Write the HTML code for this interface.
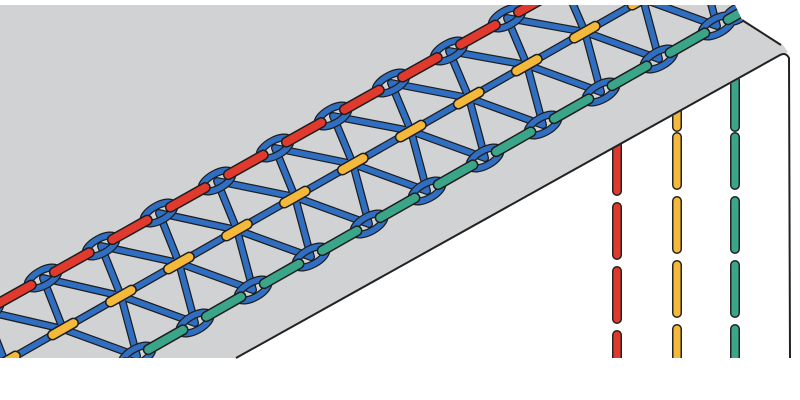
<!DOCTYPE html>
<html><head><meta charset="utf-8"><style>
html,body{margin:0;padding:0;background:#fff;width:800px;height:400px;overflow:hidden}
svg{display:block}
</style></head><body>
<svg width="800" height="400" viewBox="0 0 800 400" xmlns="http://www.w3.org/2000/svg">
<defs>
<clipPath id="top"><polygon points="0,5 735,5 742,20 783,45 788,52 236,358 0,358"/></clipPath>
<clipPath id="front"><polygon points="236,358 788,52 790,58 790,358"/></clipPath>
</defs>
<rect width="800" height="400" fill="#fff"/>
<polygon points="0,5 735,5 742,20 783,45 788,52 236,358 0,358" fill="#d1d2d4"/>
<g clip-path="url(#front)" stroke-linecap="round" fill="none">
 <g stroke="#222" stroke-width="10">
  <path d="M617,143V191M617,207V255M617,271V319M617,335V370"/>
  <path d="M677,110V127M677,137V185M677,201V249M677,265V313M677,329V370"/>
  <path d="M735,77V127M735,137V185M735,201V249M735,265V313M735,329V370"/>
 </g>
 <path stroke="#e03a2f" stroke-width="7" d="M617,143V191M617,207V255M617,271V319M617,335V370"/>
 <path stroke="#f4b93b" stroke-width="7" d="M677,110V127M677,137V185M677,201V249M677,265V313M677,329V370"/>
 <path stroke="#3aa588" stroke-width="7" d="M735,77V127M735,137V185M735,201V249M735,265V313M735,329V370"/>
</g>
<path d="M236,358 L780,55 Q786,52 789,58 L790,358" fill="none" stroke="#222" stroke-width="2"/>
<path d="M742,20 L781,45" fill="none" stroke="#222" stroke-width="2"/>
<g clip-path="url(#top)" fill="none" stroke-linecap="round">
 <g id="lat">
 <path d="M5,362L-15,311M63,329L43,278M121,296L101,246M179,263L159,213M237,230L217,181M295,197L275,148M353,164L333,116M411,131L391,83M469,98L449,51M527,65L507,18M585,32L565,-14
 M63,329L-15,311M121,296L43,278M179,263L101,246M237,230L159,213M295,197L217,181M353,164L275,148M411,131L333,116M469,98L391,83M527,65L449,51M585,32L507,18M643,-1L565,-14
 M137,356L63,329M195,323L121,296M253,290L179,263M311,257L237,230M369,224L295,197M427,191L353,164M485,158L411,131M543,125L469,98M601,92L527,65M659,59L585,32M717,26L643,-1
 M137,356L121,296M195,323L179,263M253,290L237,230M311,257L295,197M369,224L353,164M427,191L411,131M485,158L469,98M543,125L527,65M601,92L585,32M659,59L643,-1M717,26L701,-34
 M5,362L701,-34"/>
 </g>
 <use href="#lat" stroke="#1d1d1d" stroke-width="8"/>
 <use href="#lat" stroke="#2f6ec1" stroke-width="5.5"/>
 <g stroke="#1d1d1d" stroke-width="8">
  <g id="loops">
  <ellipse cx="-15" cy="311" rx="17" ry="7.5" transform="rotate(-29 -15 311)"/>
  <ellipse cx="43" cy="278" rx="17" ry="7.5" transform="rotate(-29 43 278)"/>
  <ellipse cx="101" cy="246" rx="17" ry="7.5" transform="rotate(-29 101 246)"/>
  <ellipse cx="159" cy="213" rx="17" ry="7.5" transform="rotate(-29 159 213)"/>
  <ellipse cx="217" cy="181" rx="17" ry="7.5" transform="rotate(-29 217 181)"/>
  <ellipse cx="275" cy="148" rx="17" ry="7.5" transform="rotate(-29 275 148)"/>
  <ellipse cx="333" cy="116" rx="17" ry="7.5" transform="rotate(-29 333 116)"/>
  <ellipse cx="391" cy="83" rx="17" ry="7.5" transform="rotate(-29 391 83)"/>
  <ellipse cx="449" cy="51" rx="17" ry="7.5" transform="rotate(-29 449 51)"/>
  <ellipse cx="507" cy="18" rx="17" ry="7.5" transform="rotate(-29 507 18)"/>
  <ellipse cx="79" cy="389" rx="17" ry="7.5" transform="rotate(-29 79 389)"/>
  <ellipse cx="137" cy="356" rx="17" ry="7.5" transform="rotate(-29 137 356)"/>
  <ellipse cx="195" cy="323" rx="17" ry="7.5" transform="rotate(-29 195 323)"/>
  <ellipse cx="253" cy="290" rx="17" ry="7.5" transform="rotate(-29 253 290)"/>
  <ellipse cx="311" cy="257" rx="17" ry="7.5" transform="rotate(-29 311 257)"/>
  <ellipse cx="369" cy="224" rx="17" ry="7.5" transform="rotate(-29 369 224)"/>
  <ellipse cx="427" cy="191" rx="17" ry="7.5" transform="rotate(-29 427 191)"/>
  <ellipse cx="485" cy="158" rx="17" ry="7.5" transform="rotate(-29 485 158)"/>
  <ellipse cx="543" cy="125" rx="17" ry="7.5" transform="rotate(-29 543 125)"/>
  <ellipse cx="601" cy="92" rx="17" ry="7.5" transform="rotate(-29 601 92)"/>
  <ellipse cx="659" cy="59" rx="17" ry="7.5" transform="rotate(-29 659 59)"/>
  <ellipse cx="717" cy="26" rx="17" ry="7.5" transform="rotate(-29 717 26)"/>
  <ellipse cx="737" cy="14" rx="12" ry="6" transform="rotate(-29 737 14)"/>
  </g>
 </g>
 <use href="#loops" stroke="#2f6ec1" stroke-width="5.5"/>
 <path d="M-15,311L565,-14" stroke="#1d1d1d" stroke-width="11" stroke-dasharray="40 26.5" stroke-dashoffset="-13"/>
 <path d="M-15,311L565,-14" stroke="#e03a2f" stroke-width="8" stroke-dasharray="40 26.5" stroke-dashoffset="-13"/>
 <path d="M79,389L717,26L745,10" stroke="#1d1d1d" stroke-width="11" stroke-dasharray="40 26.7" stroke-dashoffset="-13"/>
 <path d="M79,389L717,26L745,10" stroke="#3aa588" stroke-width="8" stroke-dasharray="40 26.7" stroke-dashoffset="-13"/>
 <path d="M5,362L701,-34" stroke="#1d1d1d" stroke-width="11" stroke-dasharray="24 42.7" stroke-dashoffset="12"/>
 <path d="M5,362L701,-34" stroke="#f4b93b" stroke-width="8" stroke-dasharray="24 42.7" stroke-dashoffset="12"/>
</g>
</svg>
</body></html>
